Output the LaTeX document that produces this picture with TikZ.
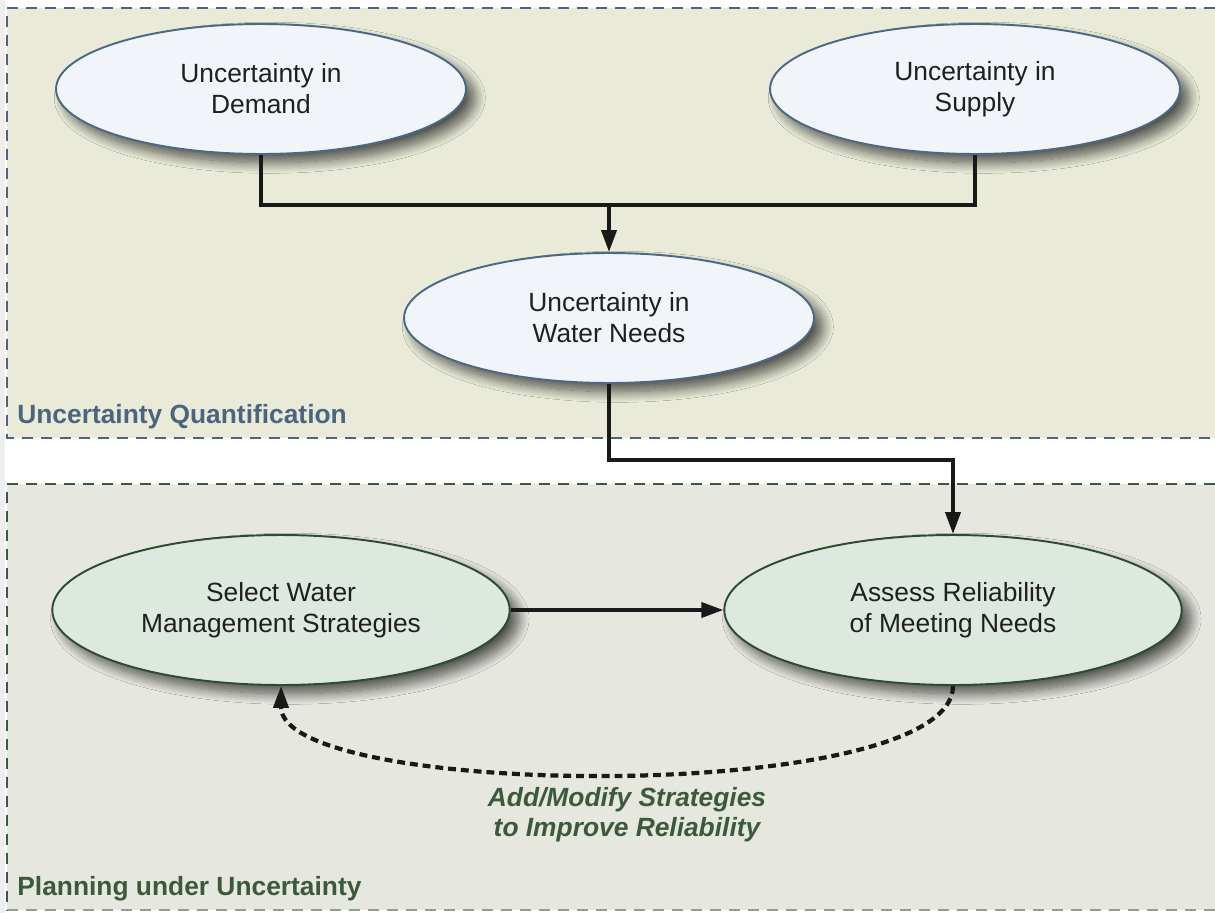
\documentclass[tikz,border=0pt]{standalone}
\usepackage{fontspec}
\setmainfont{Liberation Sans}
\usetikzlibrary{shapes.geometric,arrows.meta,shadows.blur}
\definecolor{topbg}{HTML}{E9EBD8}
\definecolor{botbg}{HTML}{E6E7DF}
\definecolor{blueline}{HTML}{4B6986}
\definecolor{bluetext}{HTML}{4A6580}
\definecolor{greenline}{HTML}{2F4B2F}
\definecolor{greentext}{HTML}{3B5A3B}
\definecolor{topfill}{HTML}{F1F4F8}
\definecolor{botfill}{HTML}{DDE8DF}
\definecolor{stripgray}{HTML}{EEEEEE}
\tikzset{
  ell/.style={ellipse, inner sep=0pt, line width=1.1pt, align=center,
    font=\fontsize{15}{17.6}\selectfont, text=black!88,
    blur shadow={shadow xshift=5pt, shadow yshift=-5pt, shadow blur radius=6pt,
      shadow blur steps=16, shadow opacity=65}},
  topell/.style={ell, draw=blueline, fill=topfill, minimum width=8.2cm, minimum height=2.6cm},
  botell/.style={ell, draw=greenline, fill=botfill, minimum width=9.15cm, minimum height=3.0cm},
  conn/.style={line width=2.2pt, black!90},
  tip/.style={-{Triangle[length=0.44cm,width=0.3cm]}},
  panelborder/.style={line width=0.7pt, dash pattern=on 0.22cm off 0.16cm},
  panellabel/.style={font=\fontsize{15}{18}\selectfont\bfseries, anchor=base west, inner sep=0pt}
}
\begin{document}
\begin{tikzpicture}[x=0.02cm, y=-0.02cm]
\useasboundingbox (0,0) rectangle (1215,913);
% background strips
\fill[white] (0,0) rectangle (1215,913);
\fill[stripgray] (0,0) rectangle (5,913);
% top panel
\fill[topbg] (7,8) rectangle (1215,438);
\draw[panelborder, draw=bluetext] (1215,8) -- (7,8) -- (7,438) -- (1215,438);
% bottom panel
\fill[botbg] (7,484) rectangle (1215,910);
\draw[panelborder, draw=greentext] (1215,484) -- (7,484) -- (7,910);
\draw[panelborder, draw=greentext!50!botbg] (7,910) -- (1215,910);
% panel labels
\node[panellabel, text=bluetext] (lblq) at (17,423) {Uncertainty Quantification};
\node[panellabel, text=greentext] (lblp) at (17,895) {Planning under Uncertainty};
% ellipses
\node[topell] (demand) at (261,89) {Uncertainty in\\Demand};
\node[topell] (supply) at (975,89) {Uncertainty in\\Supply};
\node[topell] (needs) at (609,318) {Uncertainty in\\Water Needs};
\node[botell] (select) at (281,610) {Select Water\\Management Strategies};
\node[botell] (assess) at (953,610) {Assess Reliability\\of Meeting Needs};
% connectors
\coordinate (join) at (609,205);
\draw[conn] (demand.south) |- (join) -| (supply.south);
\draw[conn, tip] (join) -- (needs.north);
\draw[conn, tip] (needs.south) |- (953,460) -- (assess.north);
\draw[conn, tip] (select.east) -- (assess.west);
\draw[line width=2.4pt, black!90, dash pattern=on 4.5pt off 2.8pt, tip]
  (assess.south) .. controls (953,805) and (281,800) .. (select.south);
% feedback label
\node[font=\fontsize{15}{17.2}\selectfont\bfseries\itshape, text=greentext, align=center] (fb) at (627,815)
  {Add/Modify Strategies\\to Improve Reliability};
\end{tikzpicture}
\end{document}
